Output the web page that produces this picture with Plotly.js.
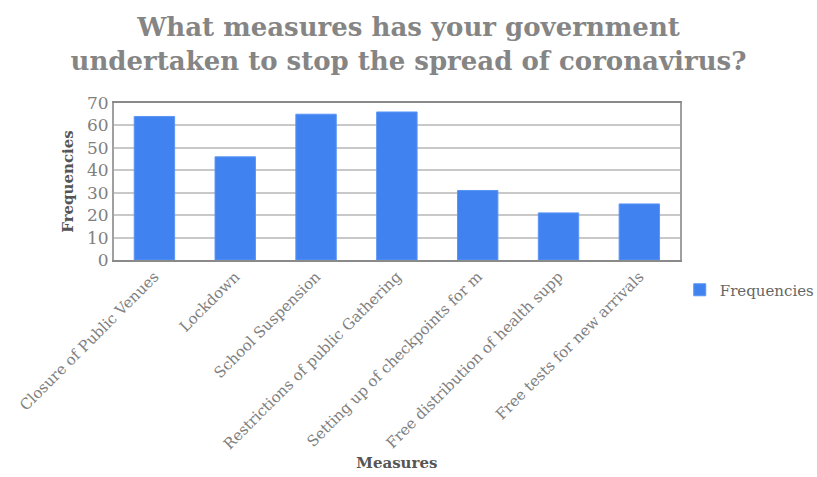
<!DOCTYPE html>
<html>
<head>
<meta charset="utf-8">
<script src="https://cdn.plot.ly/plotly-3.0.1.min.js"></script>
<style>html,body{margin:0;padding:0;background:#fff;}#chart{width:817px;height:477px;}</style>
</head>
<body>
<div id="chart"></div>
<script>
const categories = [
  "Closure of Public Venues",
  "Lockdown",
  "School Suspension",
  "Restrictions of public Gathering",
  "Setting up of checkpoints for m",
  "Free distribution of health supp",
  "Free tests for new arrivals"
];
const frequencies = [64, 46, 65, 66, 31, 21, 25];
const yTicks = [0, 10, 20, 30, 40, 50, 60, 70];

const serif = "DejaVu Serif, Liberation Serif, serif";

Plotly.newPlot("chart", [{
  type: "bar",
  x: categories,
  y: frequencies,
  name: "Frequencies",
  marker: { color: "#3f82f0", line: { color: "#5b95f5", width: 1 } },
  showlegend: true
}], {
  width: 817,
  height: 477,
  paper_bgcolor: "#fff",
  plot_bgcolor: "#fff",
  margin: { l: 114, r: 136, t: 103, b: 217 },
  bargap: 0.5,
  title: {
    text: "What measures has your government<br>undertaken to stop the spread of coronavirus?",
    font: { family: serif, size: 26, color: "#858585", weight: "bold" },
    x: 0.5, xanchor: "center", xref: "container",
    y: 0.924, yanchor: "middle", yref: "container"
  },
  xaxis: {
    tickangle: -45,
    tickfont: { family: serif, size: 15, color: "#808080" },
    showline: true, linecolor: "#8a8a8a", linewidth: 2, mirror: true,
    ticks: "", automargin: false,
    title: { text: "Measures", font: { family: serif, size: 15, color: "#555", weight: "bold" }, standoff: 5 }
  },
  yaxis: {
    range: [0, 70],
    tickvals: yTicks,
    tickfont: { family: serif, size: 17, color: "#808080" },
    showgrid: true, gridcolor: "#c8c8c8", gridwidth: 2,
    showline: true, linecolor: "#a0a0a0", linewidth: 2, mirror: true,
    zeroline: false, ticks: "", automargin: false,
    title: { text: "Frequencies", font: { family: serif, size: 15, color: "#555", weight: "bold" }, standoff: 10 }
  },
  legend: {
    xref: "container", yref: "container",
    x: 0.832, xanchor: "left", y: 0.392, yanchor: "middle",
    font: { family: serif, size: 15, color: "#666" },
    bgcolor: "rgba(0,0,0,0)"
  }
}, { displayModeBar: false, staticPlot: true });
</script>
</body>
</html>
